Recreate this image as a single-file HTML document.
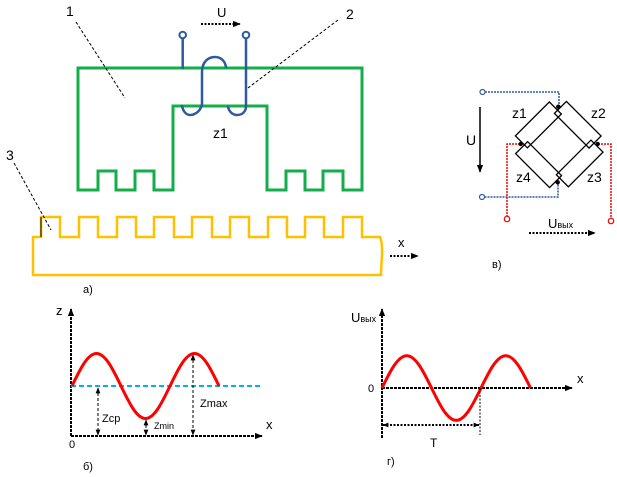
<!DOCTYPE html>
<html><head><meta charset="utf-8"><style>
html,body{margin:0;padding:0;background:#fff;}
svg{display:block;}
text{font-family:"Liberation Sans",Arial,sans-serif;fill:#000;}
</style></head><body>
<svg width="617" height="477" viewBox="0 0 617 477" xmlns="http://www.w3.org/2000/svg">
<defs>
<marker id="ah" viewBox="0 0 10 10" refX="9" refY="5" markerWidth="8" markerHeight="8" markerUnits="userSpaceOnUse" orient="auto"><path d="M0,1 L10,5 L0,9 Z" fill="#000"/></marker>
<marker id="ahs" viewBox="0 0 10 10" refX="9" refY="5" markerWidth="6" markerHeight="6" markerUnits="userSpaceOnUse" orient="auto-start-reverse"><path d="M0,1 L10,5 L0,9 Z" fill="#000"/></marker>
</defs>

<!-- ===== Part a ===== -->
<path d="M78,68 H362 V190 H343 V171 H323 V190 H305 V171 H286 V190 H267 V106 H173 V190 H154 V171 H135 V190 H116 V171 H98 V190 H78 Z" fill="none" stroke="#14ad4b" stroke-width="3"/>
<path d="M33,237 H41 V217 H60 V237 H79 V217 H98 V237 H117 V217 H136 V237 H154 V217 H174 V237 H192 V217 H212 V237 H230 V217 H249 V237 H268 V217 H287 V237 H305 V217 H324 V237 H343 V217 H362 V237 H380 C384,246 381,262 381,275 H33 Z" fill="none" stroke="#ffc000" stroke-width="2.5"/>
<line x1="41" y1="217" x2="41" y2="237" stroke="#000" stroke-width="1"/>

<g fill="none" stroke="#2f5a9e" stroke-width="2.5" stroke-linecap="round">
<path d="M182.7,38 V68"/>
<path d="M246,38 V106 C246,112 242,115 237,115 C232,115 229,111 228,107"/>
<path d="M182,106 C183,111 186,115 190,115 C196,115 201,110 202,104 V72 C202,62 208,57 215,57 C221,57 225,61 226,67"/>
</g>
<circle cx="182.7" cy="35" r="3.3" fill="#fff" stroke="#2f5a9e" stroke-width="2"/>
<circle cx="246" cy="35" r="3.3" fill="#fff" stroke="#2f5a9e" stroke-width="2"/>

<line x1="201" y1="24" x2="240" y2="24" stroke="#000" stroke-width="2" stroke-dasharray="2,1.5" marker-end="url(#ah)"/>
<text x="217" y="17" font-size="13">U</text>

<g stroke="#000" stroke-width="1" stroke-dasharray="3,2" fill="none">
<line x1="76" y1="22" x2="125" y2="98"/>
<line x1="338" y1="20" x2="248" y2="88"/>
<line x1="14" y1="163" x2="51" y2="230"/>
</g>
<text x="66" y="16" font-size="14">1</text>
<text x="346" y="19" font-size="14">2</text>
<text x="6" y="160" font-size="14">3</text>
<text x="213" y="138" font-size="14">z1</text>

<line x1="390" y1="256" x2="418" y2="256" stroke="#000" stroke-width="2" stroke-dasharray="2,1.5" marker-end="url(#ah)"/>
<text x="398" y="247" font-size="13">x</text>
<text x="83" y="293" font-size="11">а)</text>

<!-- ===== Part в (bridge) ===== -->
<g fill="none" stroke="#2f5a9e" stroke-width="1.5" stroke-dasharray="2,1">
<path d="M485,92 H559 V106"/>
<path d="M484.5,197 H558 V182"/>
</g>
<circle cx="482.5" cy="92" r="2.5" fill="#fff" stroke="#2f5a9e" stroke-width="1.2"/>
<circle cx="482" cy="197" r="2.5" fill="#fff" stroke="#2f5a9e" stroke-width="1.2"/>
<g fill="none" stroke="#ff0000" stroke-width="1.5" stroke-dasharray="2,1">
<path d="M520,144 H507 V216"/>
<path d="M598,144 H611 V218"/>
</g>
<circle cx="507" cy="219" r="2.7" fill="#fff" stroke="#ff0000" stroke-width="1.2"/>
<circle cx="611" cy="221" r="2.7" fill="#fff" stroke="#ff0000" stroke-width="1.2"/>

<g fill="none" stroke="#000" stroke-width="1.3">
<g transform="translate(520.7,144) rotate(-45)"><rect x="2" y="-9.5" width="48" height="17"/></g>
<g transform="translate(558.3,106.7) rotate(45)"><rect x="2" y="-9.5" width="49" height="17"/></g>
<g transform="translate(597.7,144) rotate(135)"><rect x="2" y="-9.5" width="49" height="17"/></g>
<g transform="translate(557.7,182.3) rotate(225)"><rect x="2" y="-9.5" width="48" height="17"/></g>
</g>
<g fill="#000">
<circle cx="558.3" cy="106.7" r="2.2"/>
<circle cx="520.7" cy="144" r="2.2"/>
<circle cx="597.7" cy="144" r="2.2"/>
<circle cx="557.7" cy="182.3" r="2.2"/>
</g>
<text x="512" y="118" font-size="14">z1</text>
<text x="591" y="118" font-size="14">z2</text>
<text x="516" y="182" font-size="14">z4</text>
<text x="587" y="182" font-size="14">z3</text>

<line x1="480" y1="107" x2="480" y2="172" stroke="#000" stroke-width="1.5" marker-end="url(#ah)"/>
<text x="466" y="145" font-size="14">U</text>

<line x1="529" y1="233" x2="595" y2="233" stroke="#000" stroke-width="2" stroke-dasharray="2,1.5" marker-end="url(#ah)"/>
<text x="548" y="228" font-size="13">U<tspan font-size="9">вых</tspan></text>
<text x="492" y="268" font-size="11">в)</text>

<!-- ===== Part б ===== -->
<line x1="71" y1="436" x2="71" y2="309" stroke="#000" stroke-width="2" stroke-dasharray="3,1" marker-end="url(#ah)"/>
<line x1="71" y1="436" x2="262" y2="436" stroke="#000" stroke-width="2" stroke-dasharray="3,1" marker-end="url(#ah)"/>
<line x1="71" y1="386" x2="262" y2="386" stroke="#00b0f0" stroke-width="2" stroke-dasharray="5,3"/>
<path d="M72,386 c7.99,-16.65 15.64,-32.5 24.5,-32.5 c8.86,0 16.51,15.85 24.5,32.5 c7.99,16.65 15.64,32.5 24.5,32.5 c8.86,0 16.51,-15.85 24.5,-32.5 c7.99,-16.65 15.64,-32.5 24.5,-32.5 c8.86,0 16.51,15.85 24.5,32.5" fill="none" stroke="#ff0000" stroke-width="3"/>
<g stroke="#000" stroke-width="1" stroke-dasharray="3,2">
<line x1="98" y1="388" x2="98" y2="435" marker-start="url(#ahs)" marker-end="url(#ahs)"/>
<line x1="146" y1="420" x2="146" y2="435" marker-start="url(#ahs)" marker-end="url(#ahs)"/>
<line x1="193" y1="355" x2="193" y2="435" marker-start="url(#ahs)" marker-end="url(#ahs)"/>
</g>
<text x="56" y="315" font-size="13">z</text>
<text x="266" y="429" font-size="13">x</text>
<text x="69" y="448" font-size="11">0</text>
<text x="102" y="422" font-size="11">Zср</text>
<text x="154" y="429" font-size="9">Zmin</text>
<text x="200" y="407" font-size="11">Zmax</text>
<text x="83" y="470" font-size="11">б)</text>

<!-- ===== Part г ===== -->
<line x1="382" y1="438" x2="382" y2="309" stroke="#000" stroke-width="2" stroke-dasharray="3,1" marker-end="url(#ah)"/>
<line x1="382" y1="388" x2="572" y2="388" stroke="#000" stroke-width="2" stroke-dasharray="3,1" marker-end="url(#ah)"/>
<path d="M382,388 c8.07,-16.55 15.8,-32.3 24.75,-32.3 c8.95,0 16.68,15.75 24.75,32.3 c8.07,16.55 15.8,32.3 24.75,32.3 c8.95,0 16.68,-15.75 24.75,-32.3 c8.07,-16.55 15.8,-32.3 24.75,-32.3 c8.95,0 16.68,15.75 24.75,32.3" fill="none" stroke="#ff0000" stroke-width="3"/>
<line x1="480" y1="388" x2="480" y2="435" stroke="#000" stroke-width="1" stroke-dasharray="2,1.5"/>
<line x1="383" y1="425" x2="479" y2="425" stroke="#000" stroke-width="2" stroke-dasharray="2,1.5" marker-start="url(#ahs)" marker-end="url(#ahs)"/>
<text x="351" y="322" font-size="13">U<tspan font-size="9">вых</tspan></text>
<text x="577" y="383" font-size="13">x</text>
<text x="368" y="392" font-size="11">0</text>
<text x="430" y="447" font-size="12">T</text>
<text x="387" y="465" font-size="11">г)</text>
</svg>
</body></html>
